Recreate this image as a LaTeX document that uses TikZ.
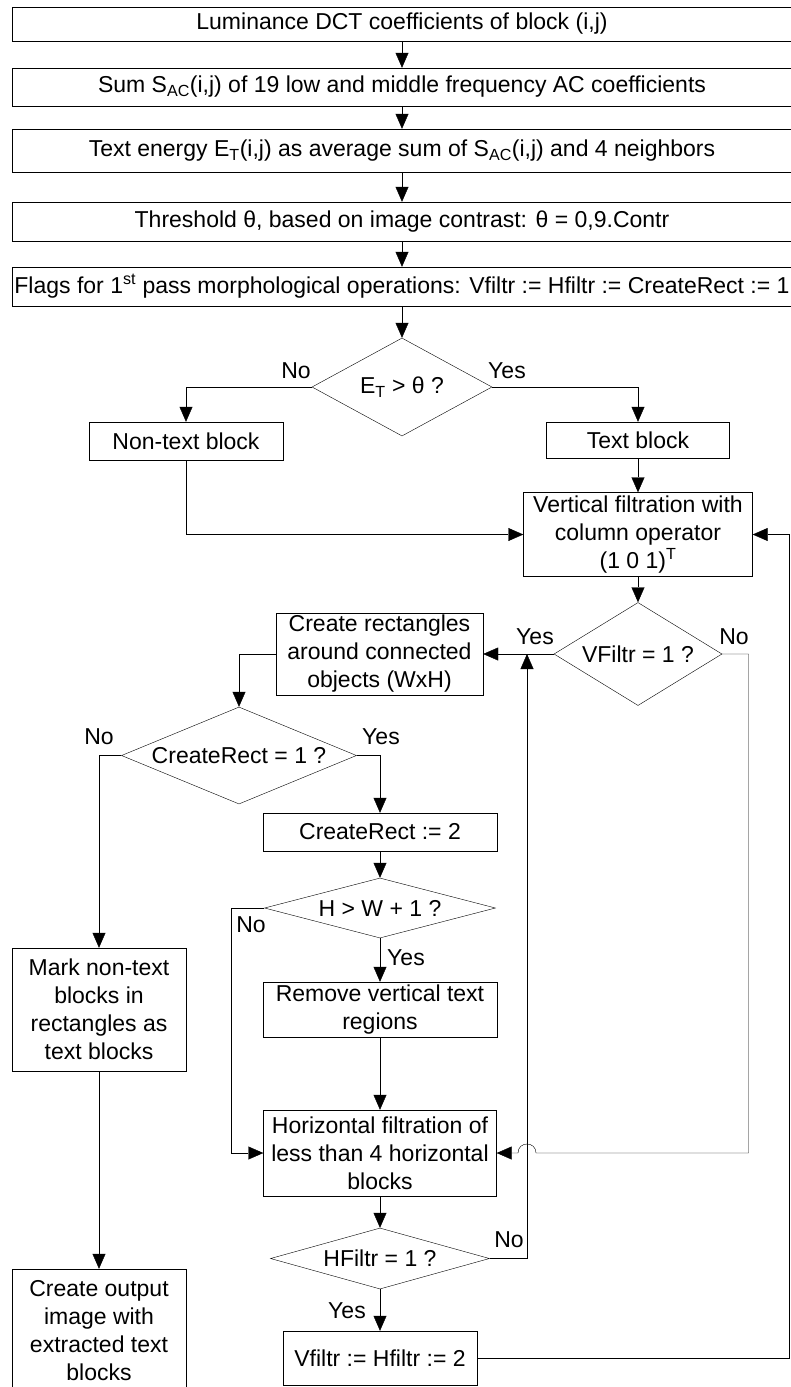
\documentclass[tikz,border=0pt]{standalone}
\usepackage{fontspec}
\setmainfont{Liberation Sans}
\usetikzlibrary{shapes.geometric,arrows.meta}

\begin{document}
\begin{tikzpicture}[x=1pt,y=-1pt,font=\fontsize{23}{28}\selectfont,
    box/.style={draw,rectangle,inner sep=2pt,align=center},
    test/.style={draw,diamond,inner sep=0pt},
    lbl/.style={inner sep=0pt},
    flow/.style={-{Triangle[length=15pt,width=13pt]}}]
    \useasboundingbox (0,0) rectangle (791,1387);

    \node[box,minimum width=780pt,minimum height=34pt] (lum) at (402,24) {Luminance DCT coefficients of block (i,j)};
    \node[box,minimum width=780pt,minimum height=38pt] (sum) at (402,87) {Sum S\textsubscript{AC}(i,j) of 19 low and middle frequency AC coefficients};
    \node[box,minimum width=780pt,minimum height=43pt] (energy) at (402,150.5) {Text energy E\textsubscript{T}(i,j) as average sum of S\textsubscript{AC}(i,j) and 4 neighbors};
    \node[box,minimum width=780pt,minimum height=39pt] (thr) at (402,221.5) {Threshold θ, based on image contrast: θ = 0,9.Contr};
    \node[box,minimum width=780pt,minimum height=39pt] (flags) at (402,286.5) {Flags for 1\textsuperscript{st} pass morphological operations: Vfiltr := Hfiltr := CreateRect := 1};

    \node[test,shape aspect=1.84,minimum width=180pt,minimum height=98pt] (dEt) at (402,387) {E\textsubscript{T} > θ ?};
    \node[box,minimum width=194pt,minimum height=38pt] (nontext) at (186,441) {Non-text block};
    \node[box,minimum width=183pt,minimum height=36pt] (textblk) at (638,440) {Text block};
    \node[box,minimum width=229pt,minimum height=84pt] (vfilt) at (638,534.5) {Vertical filtration with\\column operator\\(1 0 1)\textsuperscript{T}};
    \node[test,shape aspect=1.63,minimum width=168pt,minimum height=103pt] (dV) at (638,654) {VFiltr = 1 ?};
    \node[box,minimum width=207pt,minimum height=81pt] (rects) at (379.5,654) {Create rectangles\\around connected\\objects (WxH)};
    \node[test,shape aspect=2.42,minimum width=235pt,minimum height=97pt] (dCR) at (239,755.5) {CreateRect = 1 ?};
    \node[box,minimum width=234pt,minimum height=38pt] (setcr) at (380,832) {CreateRect := 2};
    \node[test,shape aspect=3.85,minimum width=231pt,minimum height=60pt] (dHW) at (380,908) {H > W + 1 ?};
    \node[box,minimum width=234pt,minimum height=55pt] (remove) at (380,1009.5) {Remove vertical text\\regions};
    \node[box,minimum width=233pt,minimum height=86pt] (hfilt) at (380,1153) {Horizontal filtration of\\less than 4 horizontal\\blocks};
    \node[test,shape aspect=3.6,minimum width=219pt,minimum height=61pt] (dH) at (380,1258.5) {HFiltr = 1 ?};
    \node[box,minimum width=194pt,minimum height=54pt] (reset) at (380,1358) {Vfiltr := Hfiltr := 2};
    \node[box,minimum width=174pt,minimum height=123pt] (mark) at (99,1009.5) {Mark non-text\\blocks in\\rectangles as\\text blocks};
    \node[box,minimum width=174pt,minimum height=124pt] (output) at (99,1331) {Create output\\image with\\extracted text\\blocks};

    \coordinate (upj) at (527,654);
    \coordinate (hopr) at (536,1153);
    \coordinate (hopl) at (518,1153);

    \draw[flow] (lum) -- (sum);
    \draw[flow] (sum) -- (energy);
    \draw[flow] (energy) -- (thr);
    \draw[flow] (thr) -- (flags);
    \draw[flow] (flags) -- (dEt);
    \draw[flow] (dEt.west) -| (nontext.north);
    \draw[flow] (dEt.east) -| (textblk.north);
    \draw[flow] (textblk) -- (vfilt);
    \draw[flow] (nontext.south) |- (vfilt.west);
    \draw[flow] (vfilt) -- (dV);
    \draw[flow] (dV.west) -- (rects.east);
    \draw[flow] (dV.east) -- (748.5,654) |- (hopr) .. controls (536,1141) and (518,1141) .. (hopl) -- (hfilt.east);
    \draw[flow] (dH.east) -| (upj);
    \draw[flow] (rects.west) -| (dCR.north);
    \draw[flow] (dCR.west) -| (mark.north);
    \draw[flow] (dCR.east) -| (setcr.north);
    \draw[flow] (mark) -- (output);
    \draw[flow] (setcr) -- (dHW);
    \draw[flow] (dHW) -- (remove);
    \draw[flow] (remove) -- (hfilt);
    \draw[flow] (dHW.west) -- (231,908) |- (hfilt.west);
    \draw[flow] (hfilt) -- (dH);
    \draw[flow] (dH) -- (reset);
    \draw[flow] (reset.east) -- (789.5,1358) |- (vfilt.east);

    \node[lbl] (no1) at (296,371) {No};
    \node[lbl] (yes1) at (507,371) {Yes};
    \node[lbl] (yes2) at (535,637) {Yes};
    \node[lbl] (no2) at (734,637) {No};
    \node[lbl] (no3) at (99,737) {No};
    \node[lbl] (yes3) at (381,737) {Yes};
    \node[lbl] (no4) at (251,925) {No};
    \node[lbl] (yes4) at (406,958) {Yes};
    \node[lbl] (no5) at (509,1240) {No};
    \node[lbl] (yes5) at (347,1311) {Yes};
\end{tikzpicture}
\end{document}
